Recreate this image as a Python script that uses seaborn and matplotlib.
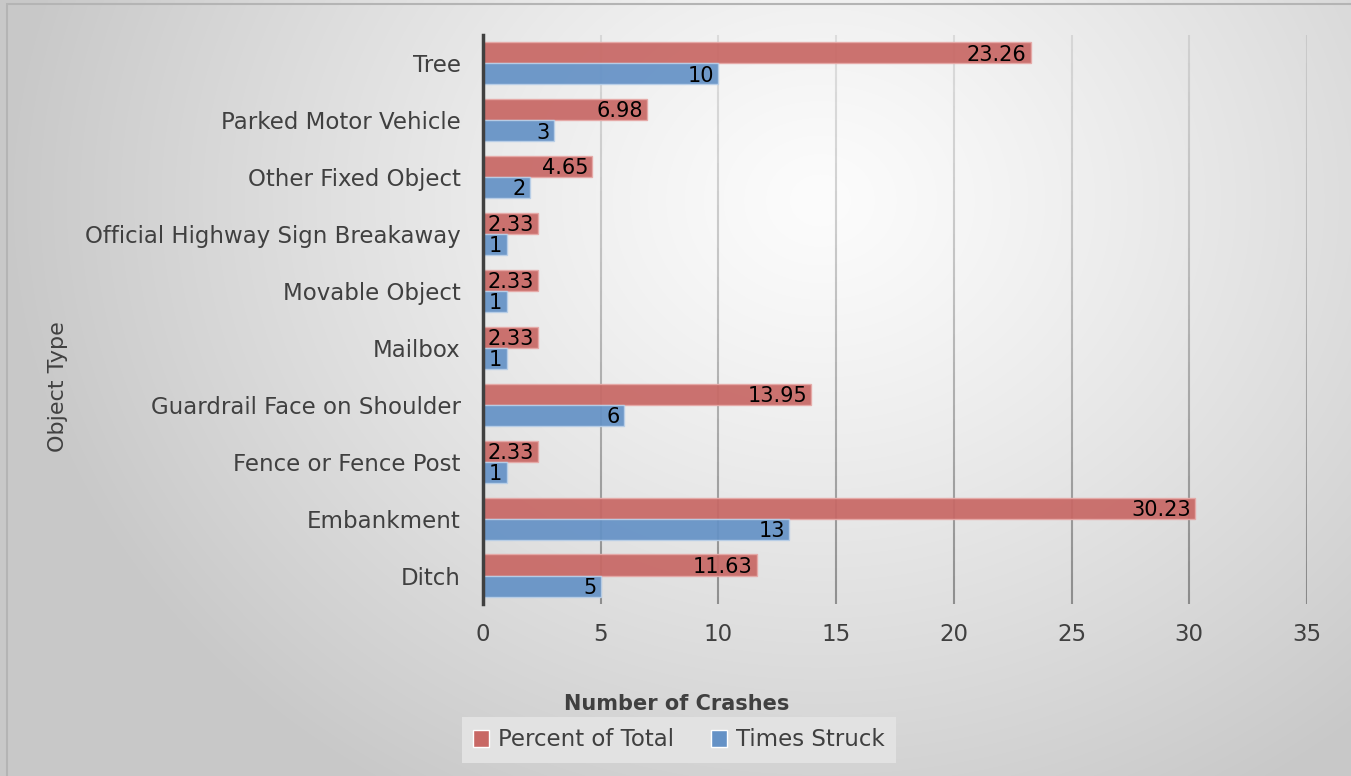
import numpy as np
import pandas as pd
import matplotlib
matplotlib.use("Agg")
import matplotlib.pyplot as plt
from matplotlib.collections import LineCollection
from matplotlib.patches import Rectangle
import seaborn as sns

# Objects struck in crashes, listed top to bottom
objects = [
    "Tree",
    "Parked Motor Vehicle",
    "Other Fixed Object",
    "Official Highway Sign Breakaway",
    "Movable Object",
    "Mailbox",
    "Guardrail Face on Shoulder",
    "Fence or Fence Post",
    "Embankment",
    "Ditch",
]
percent_of_total = [23.26, 6.98, 4.65, 2.33, 2.33, 2.33, 13.95, 2.33, 30.23, 11.63]
times_struck = [10, 3, 2, 1, 1, 1, 6, 1, 13, 5]
series_names = ["Percent of Total", "Times Struck"]
x_ticks = [0, 5, 10, 15, 20, 25, 30, 35]

df = pd.DataFrame({
    "Object Type": objects * 2,
    "Value": percent_of_total + times_struck,
    "Series": [series_names[0]] * len(objects) + [series_names[1]] * len(objects),
})

RED = "#C86865"
BLUE = "#6592C6"
TEXT = "#404040"

sns.set_theme(style="white")
plt.rcParams["font.family"] = ["DejaVu Sans"]

W, H = 1351, 776
fig = plt.figure(figsize=(W / 100, H / 100), dpi=100)

# Soft radial backdrop
bg = fig.add_axes([0, 0, 1, 1], zorder=-10)
yy, xx = np.mgrid[0:H, 0:W]
r = np.sqrt(((xx - 820) / 820.0) ** 2 + ((yy - 200) / 700.0) ** 2)
shade = 252 - 52 * np.clip(r, 0, 1.0) ** 1.2
img = np.dstack([shade, shade, shade]) / 255.0
bg.imshow(np.clip(img, 0, 1), aspect="auto", extent=[0, 1, 0, 1], interpolation="bilinear")
bg.set_axis_off()
fig.patches.append(Rectangle((7 / W, -0.01), 1.0, 1 - 4 / H + 0.01, transform=fig.transFigure,
                             fill=False, edgecolor="#b4b4b4", linewidth=1.5, zorder=-5))

ax = fig.add_axes([483 / W, 1 - 604 / H, (1307 - 483) / W, (604 - 34.6) / H])
ax.set_facecolor("none")

sns.barplot(data=df, y="Object Type", x="Value", hue="Series", orient="h",
            palette=[RED, BLUE], width=0.74, saturation=1, ax=ax, zorder=3)

for cont, color_edge in zip(ax.containers, ["#e6a9a7", "#b9cfe8"]):
    for p in cont:
        p.set_alpha(0.93)
        p.set_edgecolor(color_edge)
        p.set_linewidth(1.0)

# Value labels at the inside end of each bar
for cont, vals, fmt in zip(ax.containers, [percent_of_total, times_struck], ["{:.2f}", "{:d}"]):
    texts = ax.bar_label(cont, labels=[fmt.format(v) for v in vals], padding=-3,
                         fontsize=15, color="black")
    for t in texts:
        t.set_ha("right")
        t.set_va("center_baseline")

ax.set_xlim(0, 35)
ax.set_xticks(x_ticks)
ax.set_xticklabels([str(t) for t in x_ticks])
ax.tick_params(axis="both", length=0, labelsize=16.5, labelcolor=TEXT)
ax.tick_params(axis="x", pad=14)
ax.tick_params(axis="y", pad=16)

# Vertical gridlines that deepen toward the bottom
n = 40
ys = np.linspace(1, 0, n + 1)
for xt in x_ticks[1:]:
    segs = [[(xt, ys[i]), (xt, ys[i + 1])] for i in range(n)]
    alphas = np.linspace(0.12, 0.5, n)
    cols = [(0.25, 0.25, 0.25, a) for a in alphas]
    lc = LineCollection(segs, colors=cols, linewidths=1.5,
                        transform=ax.get_xaxis_transform(), zorder=1)
    ax.add_collection(lc)

for s in ["top", "right", "bottom"]:
    ax.spines[s].set_visible(False)
ax.spines["left"].set_color("#404040")
ax.spines["left"].set_linewidth(2.5)
ax.spines["left"].set_zorder(5)

ax.set_xlabel("")
ax.set_ylabel("")
fig.text(58 / W, 1 - 387 / H, "Object Type", rotation=90, ha="center", va="center",
         fontsize=16, color=TEXT)
fig.text(677 / W, 1 - 704 / H, "Number of Crashes", ha="center", va="center",
         fontsize=15, fontweight="bold", color=TEXT)

sns.move_legend(ax, loc="center", bbox_to_anchor=(679 / W, 1 - 740 / H),
                bbox_transform=fig.transFigure, ncol=2, title=None, frameon=True,
                fontsize=16.5, handlelength=0.7, handleheight=0.7, handletextpad=0.4,
                columnspacing=1.6, borderpad=0.5, fancybox=False)
leg = ax.get_legend()
leg.get_frame().set_facecolor("#e2e2e2")
leg.get_frame().set_edgecolor("none")
leg.get_frame().set_alpha(1)
for t in leg.get_texts():
    t.set_color(TEXT)

fig.savefig("out.png", dpi=100)
